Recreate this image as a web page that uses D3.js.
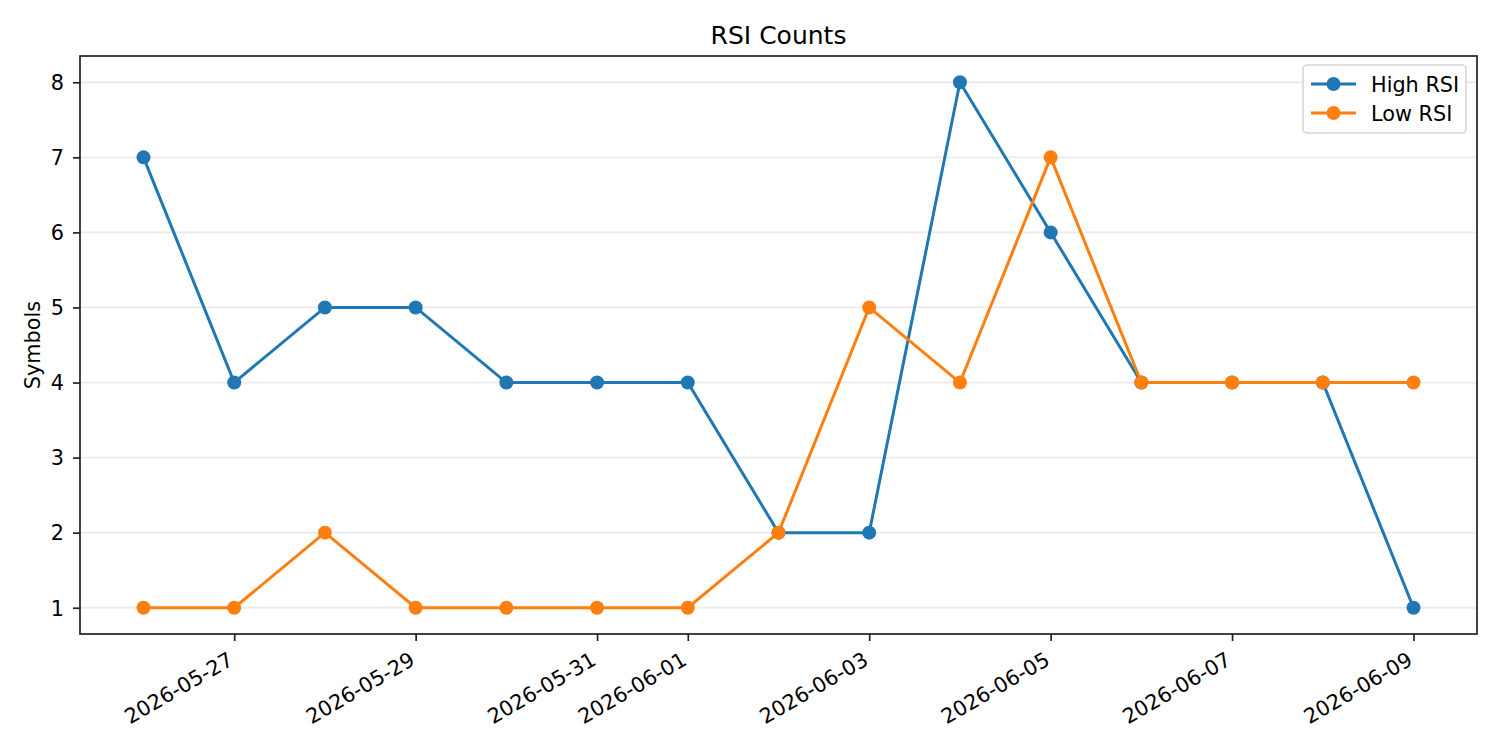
<!DOCTYPE html>
<html>
<head>
<meta charset="utf-8">
<script src="https://cdn.jsdelivr.net/npm/d3@7"></script>
<style>
  body { margin: 0; background: #fff; }
  svg { font-family: "DejaVu Sans", sans-serif; }
</style>
</head>
<body>
<svg id="chart" width="1500" height="750"></svg>
<script>
// data
var dates = ["2026-05-26","2026-05-27","2026-05-28","2026-05-29","2026-05-30","2026-05-31","2026-06-01",
             "2026-06-02","2026-06-03","2026-06-04","2026-06-05","2026-06-06","2026-06-07","2026-06-08","2026-06-09"];
var highRsi = [7,4,5,5,4,4,4,2,2,8,6,4,4,4,1];
var lowRsi  = [1,1,2,1,1,1,1,2,5,4,7,4,4,4,4];
var yTicks = [1,2,3,4,5,6,7,8];
var xTickLabels = ["2026-05-27","2026-05-29","2026-05-31","2026-06-01","2026-06-03","2026-06-05","2026-06-07","2026-06-09"];
var seriesNames = ["High RSI", "Low RSI"];
var colors = ["#1f77b4", "#ff7f0e"];

(function(){
var pLeft = 80, pRight = 1477, pTop = 56, pBottom = 634;
var fs = 20.8;   // 10pt at 150 dpi
var font = "DejaVu Sans, sans-serif";
var svg = d3.select("#chart");
var parse = d3.utcParse("%Y-%m-%d");
var fmt = d3.utcFormat("%Y-%m-%d");
var xs = dates.map(parse);

// matplotlib style 5% margins
var x0 = xs[0].getTime(), x1 = xs[xs.length-1].getTime(), pad = (x1 - x0) * 0.05;
var x = d3.scaleUtc().domain([new Date(x0 - pad), new Date(x1 + pad)]).range([pLeft, pRight]);
var yMin = 1, yMax = 8, yPad = (yMax - yMin) * 0.05;
var y = d3.scaleLinear().domain([yMin - yPad, yMax + yPad]).range([pBottom, pTop]);

// grid
svg.append("g").selectAll("line").data(yTicks).enter().append("line")
  .attr("x1", pLeft).attr("x2", pRight)
  .attr("y1", function(d){ return y(d); }).attr("y2", function(d){ return y(d); })
  .attr("stroke", "#ebebeb").attr("stroke-width", 1.8);

// axes
var gx = svg.append("g").attr("transform", "translate(0," + pBottom + ")")
  .call(d3.axisBottom(x).tickValues(xTickLabels.map(parse)).tickFormat(fmt).tickSizeOuter(0).tickSize(7).tickPadding(7))
  .attr("font-family", font);
gx.select(".domain").remove();
gx.selectAll("line").attr("stroke", "#222").attr("stroke-width", 1.7);
gx.selectAll("text")
  .style("font-size", fs + "px").attr("fill", "#000")
  .attr("text-anchor", "end")
  .attr("dy", null).attr("y", 0)
  .attr("transform", "translate(0,30) rotate(-30)");

var gy = svg.append("g").attr("transform", "translate(" + pLeft + ",0)")
  .call(d3.axisLeft(y).tickValues(yTicks).tickSizeOuter(0).tickSize(7).tickPadding(9))
  .attr("font-family", font);
gy.select(".domain").remove();
gy.selectAll("line").attr("stroke", "#222").attr("stroke-width", 1.7);
gy.selectAll("text").style("font-size", fs + "px").attr("fill", "#000").attr("dy", "0.35em");

// frame
svg.append("rect").attr("x", pLeft).attr("y", pTop).attr("width", pRight - pLeft).attr("height", pBottom - pTop)
  .attr("fill", "none").attr("stroke", "#222").attr("stroke-width", 1.7);

// lines
[highRsi, lowRsi].forEach(function(vals, k){
  var pts = vals.map(function(v, i){ return [xs[i], v]; });
  var line = d3.line().x(function(d){ return x(d[0]); }).y(function(d){ return y(d[1]); });
  svg.append("path").datum(pts).attr("d", line)
    .attr("fill", "none").attr("stroke", colors[k]).attr("stroke-width", 3);
  svg.append("g").selectAll("circle").data(pts).enter().append("circle")
    .attr("cx", function(d){ return x(d[0]); }).attr("cy", function(d){ return y(d[1]); })
    .attr("r", 7).attr("fill", colors[k]);
});

// title + label
svg.append("text").attr("x", (pLeft + pRight) / 2).attr("y", 44).attr("text-anchor", "middle")
  .style("font-size", "25px").text("RSI Counts");
svg.append("text").attr("transform", "translate(40," + ((pTop + pBottom) / 2) + ") rotate(-90)")
  .attr("text-anchor", "middle").style("font-size", fs + "px").text("Symbols");

// legend
var lg = svg.append("g").attr("transform", "translate(1303,65)");
lg.append("rect").attr("width", 163).attr("height", 68).attr("rx", 4)
  .attr("fill", "#fff").attr("fill-opacity", 0.8).attr("stroke", "#d6d6d6").attr("stroke-width", 1.6);
seriesNames.forEach(function(n, k){
  var yy = 19 + k * 29;
  lg.append("line").attr("x1", 8).attr("x2", 53).attr("y1", yy).attr("y2", yy)
    .attr("stroke", colors[k]).attr("stroke-width", 3);
  lg.append("circle").attr("cx", 30.5).attr("cy", yy).attr("r", 7).attr("fill", colors[k]);
  lg.append("text").attr("x", 68).attr("y", yy + 7.5).style("font-size", fs + "px").text(n);
});
})();
</script>
</body>
</html>
